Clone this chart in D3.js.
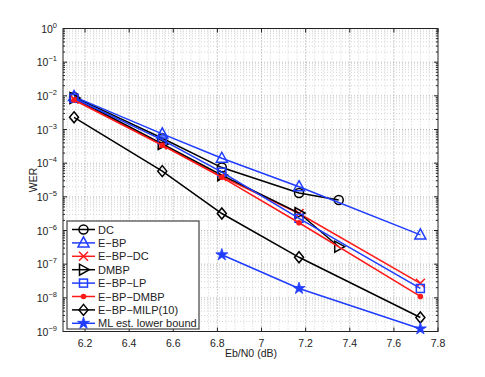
<!DOCTYPE html>
<html lang="en">
<head>
<meta charset="UTF-8">
<title>WER vs Eb/N0</title>
<script src="https://d3js.org/d3.v7.min.js"></script>
<style>
  body { margin: 0; background: #fff; }
  svg text { font-family: "Liberation Sans", Arial, sans-serif; fill: #222; }
</style>
</head>
<body>
<svg id="chart" width="485" height="377"></svg>
<script>
// x positions (Eb/N0 in dB)
var snrFull = [6.15, 6.55, 6.82, 7.17, 7.72];
var snrShort = [6.15, 6.55, 6.82, 7.17, 7.35];
var snrML = [6.82, 7.17, 7.72];

// WER values
var werDC = [9.3e-3, 5.5e-4, 7.4e-5, 1.3e-5, 8.1e-6];
var werEBP = [9.5e-3, 7.4e-4, 1.4e-4, 2.0e-5, 7.4e-7];
var werEBPDC = [8.0e-3, 3.5e-4, 4.0e-5, 3.2e-6, 2.7e-8];
var werDMBP = [8.6e-3, 3.7e-4, 4.4e-5, 3.3e-6, 3.3e-7];
var werEBPLP = [8.5e-3, 4.9e-4, 5.4e-5, 2.3e-6, 1.9e-8];
var werEBPDMBP = [7.5e-3, 3.4e-4, 3.8e-5, 1.7e-6, 1.1e-8];
var werMILP = [2.3e-3, 5.8e-5, 3.2e-6, 1.6e-7, 2.6e-9];
var werML = [1.9e-7, 1.9e-8, 1.2e-9];

var xTicks = [6.2, 6.4, 6.6, 6.8, 7, 7.2, 7.4, 7.6, 7.8];
var yExps = [0, -1, -2, -3, -4, -5, -6, -7, -8, -9];

var series = [
  {name: "DC", x: snrShort, y: werDC, color: "#000", marker: "circle"},
  {name: "E\u2212BP", x: snrFull, y: werEBP, color: "#1f3cff", marker: "triUp"},
  {name: "E\u2212BP\u2212DC", x: snrFull, y: werEBPDC, color: "#ff1a1a", marker: "cross"},
  {name: "DMBP", x: snrShort, y: werDMBP, color: "#000", marker: "triRight"},
  {name: "E\u2212BP\u2212LP", x: snrFull, y: werEBPLP, color: "#1f3cff", marker: "square"},
  {name: "E\u2212BP\u2212DMBP", x: snrFull, y: werEBPDMBP, color: "#ff1a1a", marker: "dot"},
  {name: "E\u2212BP\u2212MILP(10)", x: snrFull, y: werMILP, color: "#000", marker: "diamond"},
  {name: "ML est. lower bound", x: snrML, y: werML, color: "#1f3cff", marker: "star"}
];

var svg = d3.select("#chart");
var pLeft = 63, pRight = 438, pTop = 28.5, pBottom = 331.5;

var x = d3.scaleLinear().domain([6.1, 7.8]).range([pLeft, pRight]);
var y = d3.scaleLog().domain([1e-9, 1]).range([pBottom, pTop]);

// grid
var grid = svg.append("g");
var xMinor = d3.range(6.12, 7.79, 0.04);
grid.selectAll(".xminor").data(xMinor).enter().append("line")
  .attr("x1", d => x(d)).attr("x2", d => x(d))
  .attr("y1", pTop).attr("y2", pBottom)
  .attr("stroke", "#c9c9c9").attr("stroke-width", 0.8).attr("stroke-dasharray", "1,2");
var yMinor = [];
yExps.slice(1).forEach(function (e) {
  for (var k = 2; k <= 9; k++) yMinor.push(k * Math.pow(10, e));
});
grid.selectAll(".yminor").data(yMinor).enter().append("line")
  .attr("x1", pLeft).attr("x2", pRight)
  .attr("y1", d => y(d)).attr("y2", d => y(d))
  .attr("stroke", "#c9c9c9").attr("stroke-width", 0.8).attr("stroke-dasharray", "1,2");
grid.selectAll(".xmajor").data(xTicks.slice(0, -1)).enter().append("line")
  .attr("x1", d => x(d)).attr("x2", d => x(d))
  .attr("y1", pTop).attr("y2", pBottom)
  .attr("stroke", "#aaa").attr("stroke-width", 0.8).attr("stroke-dasharray", "1,2");
grid.selectAll(".ymajor").data(yExps.slice(1, -1)).enter().append("line")
  .attr("x1", pLeft).attr("x2", pRight)
  .attr("y1", d => y(Math.pow(10, d))).attr("y2", d => y(Math.pow(10, d)))
  .attr("stroke", "#aaa").attr("stroke-width", 0.8).attr("stroke-dasharray", "1,2");

// ticks inside the box
var tk = svg.append("g").attr("stroke", "#222").attr("stroke-width", 1);
xTicks.forEach(function (t) {
  tk.append("line").attr("x1", x(t)).attr("x2", x(t)).attr("y1", pBottom).attr("y2", pBottom - 4);
  tk.append("line").attr("x1", x(t)).attr("x2", x(t)).attr("y1", pTop).attr("y2", pTop + 4);
});
yExps.forEach(function (e) {
  var yy = y(Math.pow(10, e));
  tk.append("line").attr("x1", pLeft).attr("x2", pLeft + 4).attr("y1", yy).attr("y2", yy);
  tk.append("line").attr("x1", pRight).attr("x2", pRight - 4).attr("y1", yy).attr("y2", yy);
});
yMinor.forEach(function (v) {
  tk.append("line").attr("x1", pLeft).attr("x2", pLeft + 2).attr("y1", y(v)).attr("y2", y(v));
  tk.append("line").attr("x1", pRight).attr("x2", pRight - 2).attr("y1", y(v)).attr("y2", y(v));
});

svg.append("rect").attr("x", pLeft).attr("y", pTop)
  .attr("width", pRight - pLeft).attr("height", pBottom - pTop)
  .attr("fill", "none").attr("stroke", "#222").attr("stroke-width", 1);

// tick labels
svg.append("g").selectAll("text").data(xTicks).enter().append("text")
  .attr("x", d => x(d)).attr("y", pBottom + 15)
  .attr("text-anchor", "middle").attr("font-size", 10.5)
  .text(d => d3.format("")(d));

var yl = svg.append("g").selectAll("text").data(yExps).enter().append("text")
  .attr("x", pLeft - 6).attr("y", d => y(Math.pow(10, d)) + 4)
  .attr("text-anchor", "end").attr("font-size", 10.5);
yl.append("tspan").text("10");
yl.append("tspan").attr("dy", -5).attr("font-size", 7.5)
  .text(d => d === 0 ? "0" : "\u2212" + (-d));

svg.append("text").attr("x", 251).attr("y", 357)
  .attr("text-anchor", "middle").attr("font-size", 10.5).text("Eb/N0 (dB)");
svg.append("text").attr("transform", "translate(37,180) rotate(-90)")
  .attr("text-anchor", "middle").attr("font-size", 10.5).text("WER");

// markers
function drawMarker(g, m, cx, cy, color) {
  var sw = 1.5;
  if (m === "circle") {
    g.append("circle").attr("cx", cx).attr("cy", cy).attr("r", 4.5)
      .attr("fill", "none").attr("stroke", color).attr("stroke-width", sw);
  } else if (m === "triUp") {
    g.append("path").attr("d", "M" + cx + "," + (cy - 6) + "L" + (cx + 5.5) + "," + (cy + 4) + "L" + (cx - 5.5) + "," + (cy + 4) + "Z")
      .attr("fill", "none").attr("stroke", color).attr("stroke-width", sw);
  } else if (m === "triRight") {
    g.append("path").attr("d", "M" + (cx + 6) + "," + cy + "L" + (cx - 4) + "," + (cy + 5.5) + "L" + (cx - 4) + "," + (cy - 5.5) + "Z")
      .attr("fill", "none").attr("stroke", color).attr("stroke-width", sw);
  } else if (m === "cross") {
    g.append("path").attr("d", "M" + (cx - 4.5) + "," + (cy - 4.5) + "L" + (cx + 4.5) + "," + (cy + 4.5) + "M" + (cx - 4.5) + "," + (cy + 4.5) + "L" + (cx + 4.5) + "," + (cy - 4.5))
      .attr("stroke", color).attr("stroke-width", sw);
  } else if (m === "square") {
    g.append("rect").attr("x", cx - 4).attr("y", cy - 4).attr("width", 8).attr("height", 8)
      .attr("fill", "none").attr("stroke", color).attr("stroke-width", sw);
  } else if (m === "dot") {
    g.append("circle").attr("cx", cx).attr("cy", cy).attr("r", 2.8).attr("fill", color);
  } else if (m === "diamond") {
    g.append("path").attr("d", "M" + cx + "," + (cy - 5.5) + "L" + (cx + 4.5) + "," + cy + "L" + cx + "," + (cy + 5.5) + "L" + (cx - 4.5) + "," + cy + "Z")
      .attr("fill", "none").attr("stroke", color).attr("stroke-width", sw);
  } else if (m === "star") {
    g.append("path").attr("d", d3.symbol().type(d3.symbolStar).size(45)())
      .attr("transform", "translate(" + cx + "," + cy + ")")
      .attr("fill", color).attr("stroke", color).attr("stroke-width", 0.8);
  }
}

var line = d3.line().x(d => x(d[0])).y(d => y(d[1]));
var plot = svg.append("g");
series.forEach(function (s) {
  var pts = s.x.map((v, i) => [v, s.y[i]]);
  plot.append("path").datum(pts).attr("d", line)
    .attr("fill", "none").attr("stroke", s.color).attr("stroke-width", 1.5);
  pts.forEach(function (p) { drawMarker(plot, s.marker, x(p[0]), y(p[1]), s.color); });
});

// legend
var lg = svg.append("g");
lg.append("rect").attr("x", 67).attr("y", 221).attr("width", 132).attr("height", 108)
  .attr("fill", "#fff").attr("stroke", "#444").attr("stroke-width", 1.2);
series.forEach(function (s, i) {
  var ly = 229.5 + i * 13.4;
  lg.append("line").attr("x1", 72).attr("x2", 95).attr("y1", ly).attr("y2", ly)
    .attr("stroke", s.color).attr("stroke-width", 1.5);
  drawMarker(lg, s.marker, 83.5, ly, s.color);
  lg.append("text").attr("x", 98).attr("y", ly + 4).attr("font-size", 11).text(s.name);
});
</script>
</body>
</html>
